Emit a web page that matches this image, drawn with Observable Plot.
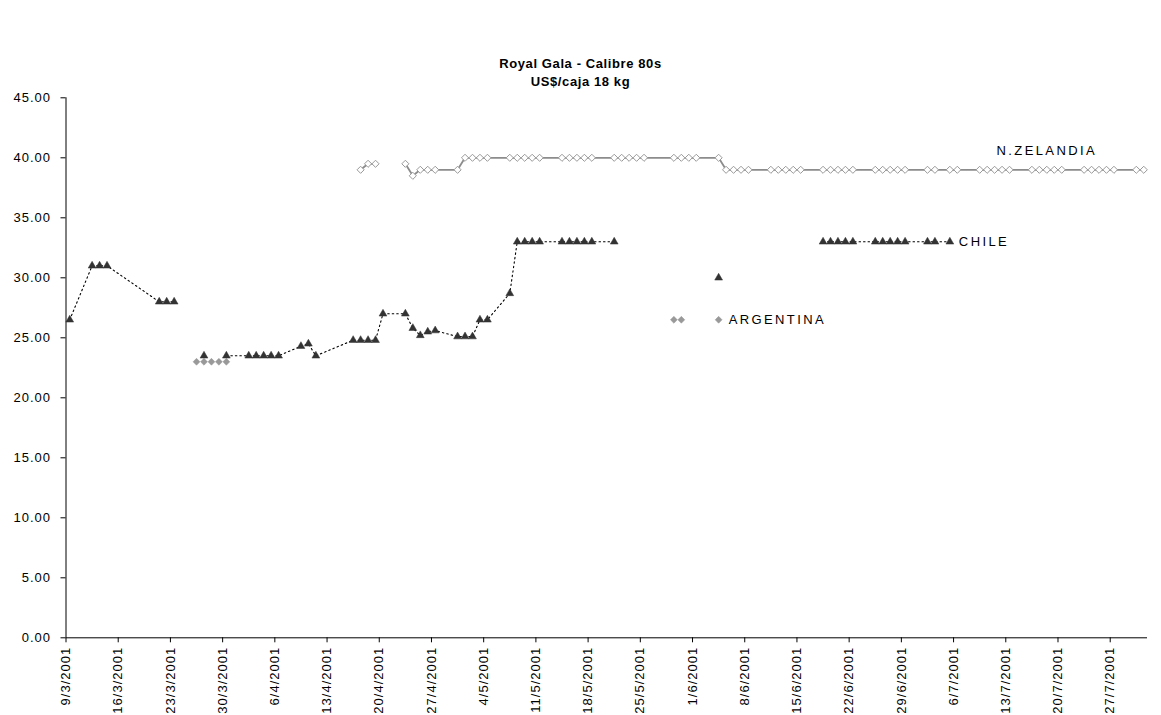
<!DOCTYPE html>
<html>
<head>
<meta charset="utf-8">
<script src="https://cdn.jsdelivr.net/npm/d3@7"></script>
<script src="https://cdn.jsdelivr.net/npm/@observablehq/plot@0.6"></script>
<style>
  body { margin: 0; background: #fff; }
  #wrap { position: relative; width: 1161px; height: 715px; font-family: "Liberation Sans", Arial, sans-serif; }
  #wrap svg { position: absolute; left: 0; top: 0; }
  #wrap svg text { letter-spacing: 1px; }
  #wrap svg g.series-label text { letter-spacing: 2.4px; }
  #title { position: absolute; top: 55px; left: 0; width: 1161px; text-align: center; font-weight: bold;
           font-size: 13px; line-height: 18px; letter-spacing: 0.6px; color: #000; }
</style>
</head>
<body>
<div id="wrap"></div>
<script>
// ---- data ----
const titleLines = ["Royal Gala - Calibre 80s", "US$/caja 18 kg"];

const yTicks = [0, 5, 10, 15, 20, 25, 30, 35, 40, 45];
const xTickLabels = ["9/3/2001","16/3/2001","23/3/2001","30/3/2001","6/4/2001","13/4/2001","20/4/2001",
  "27/4/2001","4/5/2001","11/5/2001","18/5/2001","25/5/2001","1/6/2001","8/6/2001","15/6/2001",
  "22/6/2001","29/6/2001","6/7/2001","13/7/2001","20/7/2001","27/7/2001"];
const xDomain = ["2001-03-09", "2001-08-01"];

const chileDates = ["2001-03-09","2001-03-12","2001-03-13","2001-03-14","2001-03-21","2001-03-22","2001-03-23",
  "2001-03-26","2001-03-27","2001-03-28","2001-03-30","2001-04-02","2001-04-03","2001-04-04","2001-04-05",
  "2001-04-06","2001-04-09","2001-04-10","2001-04-11","2001-04-16","2001-04-17","2001-04-18","2001-04-19",
  "2001-04-20","2001-04-23","2001-04-24","2001-04-25","2001-04-26","2001-04-27","2001-04-30","2001-05-01",
  "2001-05-02","2001-05-03","2001-05-04","2001-05-07","2001-05-08","2001-05-09","2001-05-10","2001-05-11",
  "2001-05-14","2001-05-15","2001-05-16","2001-05-17","2001-05-18","2001-05-21","2001-05-22","2001-06-04",
  "2001-06-05","2001-06-18","2001-06-19","2001-06-20","2001-06-21","2001-06-22","2001-06-25","2001-06-26",
  "2001-06-27","2001-06-28","2001-06-29","2001-07-02","2001-07-03","2001-07-05"];
const chileValues = [26.5, 31, 31, 31, 28, 28, 28,
  null, 23.5, null, 23.5, 23.5, 23.5, 23.5, 23.5,
  23.5, 24.3, 24.5, 23.5, 24.8, 24.8, 24.8, 24.8,
  27, 27, 25.8, 25.2, 25.5, 25.6, 25.1, 25.1,
  25.1, 26.5, 26.5, 28.7, 33, 33, 33, 33,
  33, 33, 33, 33, 33, 33, null, 30,
  null, 33, 33, 33, 33, 33, 33, 33,
  33, 33, 33, 33, 33, 33];

const nzDates = ["2001-04-17","2001-04-18","2001-04-19","2001-04-20","2001-04-23","2001-04-24","2001-04-25",
  "2001-04-26","2001-04-27","2001-04-30","2001-05-01","2001-05-02","2001-05-03","2001-05-04","2001-05-07",
  "2001-05-08","2001-05-09","2001-05-10","2001-05-11","2001-05-14","2001-05-15","2001-05-16","2001-05-17",
  "2001-05-18","2001-05-21","2001-05-22","2001-05-23","2001-05-24","2001-05-25","2001-05-29","2001-05-30",
  "2001-05-31","2001-06-01","2001-06-04","2001-06-05","2001-06-06","2001-06-07","2001-06-08","2001-06-11",
  "2001-06-12","2001-06-13","2001-06-14","2001-06-15","2001-06-18","2001-06-19","2001-06-20","2001-06-21",
  "2001-06-22","2001-06-25","2001-06-26","2001-06-27","2001-06-28","2001-06-29","2001-07-02","2001-07-03",
  "2001-07-05","2001-07-06","2001-07-09","2001-07-10","2001-07-11","2001-07-12","2001-07-13","2001-07-16",
  "2001-07-17","2001-07-18","2001-07-19","2001-07-20","2001-07-23","2001-07-24","2001-07-25","2001-07-26",
  "2001-07-27","2001-07-30","2001-07-31"];
const nzValues = [39, 39.5, 39.5, null, 39.5, 38.5, 39,
  39, 39, 39, 40, 40, 40, 40, 40,
  40, 40, 40, 40, 40, 40, 40, 40,
  40, 40, 40, 40, 40, 40, 40, 40,
  40, 40, 40, 39, 39, 39, 39, 39,
  39, 39, 39, 39, 39, 39, 39, 39,
  39, 39, 39, 39, 39, 39, 39, 39,
  39, 39, 39, 39, 39, 39, 39, 39,
  39, 39, 39, 39, 39, 39, 39, 39,
  39, 39, 39];

const argDates = ["2001-03-26","2001-03-27","2001-03-28","2001-03-29","2001-03-30","2001-05-29","2001-05-30","2001-06-04"];
const argValues = [23, 23, 23, 23, 23, 26.5, 26.5, 26.5];

const seriesLabels = [
  {name: "N.ZELANDIA", at: "2001-07-18", value: 39,   anchor: "middle", dx: 0,  dy: -18.5},
  {name: "CHILE",      at: "2001-07-05", value: 33,   anchor: "start",  dx: 9,  dy: 0},
  {name: "ARGENTINA",  at: "2001-06-04", value: 26.5, anchor: "start",  dx: 10, dy: 0}
];

// ---- build ----
const day0 = s => new Date(s + "T00:00:00Z");
const noon = s => new Date(s + "T12:00:00Z");
const rows = (dates, values) => dates.map((d, i) => ({date: noon(d), value: values[i]}));
const chile = rows(chileDates, chileValues);
const nz = rows(nzDates, nzValues);
const arg = rows(argDates, argValues);
const parseTick = d3.utcParse("%d/%m/%Y");
const xTicks = xTickLabels.map(parseTick);
const tickText = new Map(xTicks.map((d, i) => [+d, xTickLabels[i]]));
const has = d => d.value != null;

const labelMarks = seriesLabels.map(l => Plot.text([{date: noon(l.at), value: l.value, name: l.name}], {
  x: "date", y: "value", text: "name", textAnchor: l.anchor, dx: l.dx, dy: l.dy,
  fill: "#000", fontSize: 13, className: "series-label"
}));

const chart = Plot.plot({
  width: 1161,
  height: 715,
  marginLeft: 65.5,
  marginRight: 14,
  marginTop: 97.3,
  marginBottom: 77.7,
  style: {fontFamily: '"Liberation Sans", Arial, sans-serif', fontSize: "13px", color: "#000", background: "transparent"},
  x: {type: "utc", domain: xDomain.map(day0)},
  y: {domain: [0, 45]},
  marks: [
    Plot.axisY({ticks: yTicks, tickFormat: d => d.toFixed(2), tickSize: 5, tickPadding: 10, label: null}),
    Plot.axisX({ticks: xTicks, tickFormat: d => tickText.get(+d), tickRotate: -90, tickSize: 5, tickPadding: 4, label: null}),
    Plot.ruleX([day0(xDomain[0])], {y1: 0, y2: 45, stroke: "#000", strokeWidth: 1}),
    Plot.ruleY([0], {stroke: "#000", strokeWidth: 1}),
    Plot.line(nz, {x: "date", y: "value", stroke: "#8c8c8c", strokeWidth: 1.8}),
    Plot.dot(nz.filter(has), {x: "date", y: "value", symbol: "diamond2", r: 3.2, fill: "white", stroke: "#999", strokeWidth: 1}),
    Plot.dot(arg, {x: "date", y: "value", symbol: "diamond2", r: 3.1, fill: "#999", stroke: "#999", strokeWidth: 0.5}),
    Plot.line(chile, {x: "date", y: "value", stroke: "#000", strokeWidth: 1.1, strokeDasharray: "1.5,3"}),
    Plot.dot(chile.filter(has), {x: "date", y: "value", symbol: "triangle", r: 2.9, fill: "#333", stroke: "#333", strokeWidth: 0.5}),
    ...labelMarks
  ]
});

const wrap = document.getElementById("wrap");
wrap.appendChild(chart);
const title = document.createElement("div");
title.id = "title";
title.innerHTML = titleLines.join("<br>");
wrap.appendChild(title);
</script>
</body>
</html>
